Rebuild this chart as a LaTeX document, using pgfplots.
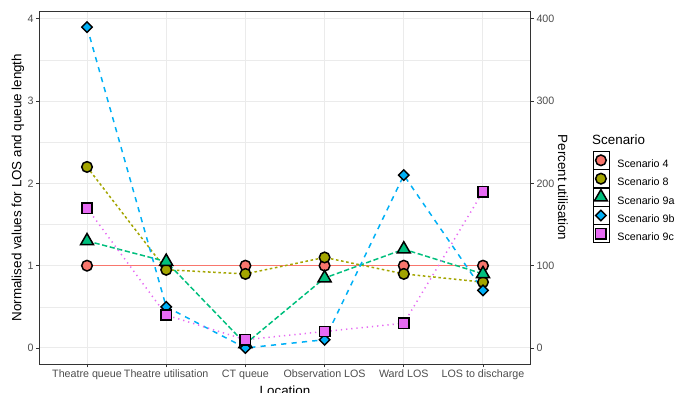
\documentclass[border=0pt]{standalone}
\usepackage{pgfplots}
\usepackage{pgfplotstable}
\pgfplotsset{compat=1.18}
\usepackage{fontspec}
\setmainfont{Liberation Sans}

\definecolor{sc4}{HTML}{F8766D}
\definecolor{sc8}{HTML}{A3A500}
\definecolor{sc9a}{HTML}{00BF7D}
\definecolor{sc9b}{HTML}{00B0F6}
\definecolor{sc9c}{HTML}{E76BF3}
\definecolor{gridc}{HTML}{EBEBEB}
\definecolor{tickc}{HTML}{4D4D4D}
\definecolor{framec}{HTML}{333333}

% normalised values per location (index 0..5)
\pgfplotstableread{
x   s4  s8    s9a   s9b  s9c
0   1   2.2   1.3   3.9  1.7
1   1   0.95  1.05  0.5  0.4
2   1   0.9   0.05  0.0  0.1
3   1   1.1   0.85  0.1  0.2
4   1   0.9   1.2   2.1  0.3
5   1   0.8   0.9   0.7  1.9
}\scen

\pgfplotsset{
  circ/.style={mark=*, mark size=5.3pt, mark options={solid, draw=black, line width=1.5pt, fill=#1}},
  tri/.style={mark=triangle*, mark size=7.5pt, mark options={solid, draw=black, line width=1.5pt, fill=#1}},
  dia/.style={mark=square*, mark size=3.7pt, mark options={solid, rotate=45, draw=black, line width=1.4pt, fill=#1}},
  sqr/.style={mark=square*, mark size=5.2pt, mark options={solid, draw=black, line width=1.5pt, fill=#1}},
  conn/.style={draw=#1, color=#1, line width=1.5pt, no marks, forget plot},
}

\begin{document}
\begin{tikzpicture}
% secondary scale on the right: percent utilisation
\begin{axis}[
  at={(39.5pt,28pt)}, anchor=south west,
  scale only axis, width=491pt, height=353pt,
  xmin=-0.6, xmax=5.6, ymin=-19.5, ymax=409.5,
  axis x line=none, axis y line*=right,
  ytick={0,100,200,300,400},
  tick align=outside, major tick length=3.3pt,
  tick style={color=framec, line width=0.9pt},
  axis line style={framec, line width=0.9pt},
  /pgf/number format/assume math mode=true,
  yticklabel style={font=\fontsize{10.7}{12}\selectfont, text=tickc, inner sep=0pt, xshift=2.5pt},
  ylabel={Percent utilisation},
  ylabel style={at={(axis description cs:1.0662,0.5)}, anchor=center, rotate=180, font=\fontsize{13.4}{15}\selectfont},
]
\end{axis}

\begin{axis}[
  at={(39.5pt,28pt)}, anchor=south west,
  scale only axis, width=491pt, height=353pt,
  xmin=-0.6, xmax=5.6, ymin=-0.195, ymax=4.095,
  xtick={0,...,5},
  xticklabels={Theatre queue, Theatre utilisation, CT queue, Observation LOS, Ward LOS, LOS to discharge},
  ytick={0,...,4}, minor ytick={0.5,1.5,2.5,3.5},
  xmajorgrids, ymajorgrids, yminorgrids,
  major grid style={gridc, line width=1pt},
  minor grid style={gridc, line width=0.5pt},
  tick align=outside, xtick pos=bottom, ytick pos=left,
  major tick length=3.3pt, minor tick length=0pt,
  tick style={color=framec, line width=0.9pt},
  axis line style={framec, line width=0.9pt},
  /pgf/number format/assume math mode=true,
  ticklabel style={font=\fontsize{10.7}{12}\selectfont, text=tickc, inner sep=0pt},
  yticklabel style={xshift=-2.5pt},
  xticklabel style={yshift=-2.5pt},
  xlabel={Location},
  xlabel style={at={(axis description cs:0.5,0)}, anchor=base, yshift=-31pt, font=\fontsize{13.4}{15}\selectfont},
  ylabel={Normalised values for LOS and queue length},
  ylabel style={at={(axis description cs:-0.0438,0.5)}, anchor=center, font=\fontsize{13.4}{15}\selectfont},
  legend image code/.code={%
    \path (-8pt,-5pt) rectangle (8pt,13pt);
    \draw[only marks,#1] plot coordinates {(0pt,3.8pt)};},
  legend style={at={(axis description cs:1.1267,0.6037)}, anchor=north west,
    draw=none, fill=none, inner sep=0pt, outer sep=0pt, row sep=0pt, column sep=8.3pt,
    font=\fontsize{10.7}{12}\selectfont, nodes={inner sep=0pt}},
  legend cell align=left,
]
% connecting lines
\addplot[conn=sc4] table[x=x, y=s4] {\scen};
\addplot[conn=sc8, dash pattern=on 2.6pt off 2.6pt] table[x=x, y=s8] {\scen};
\addplot[conn=sc9a, dash pattern=on 5.2pt off 2.6pt] table[x=x, y=s9a] {\scen};
\addplot[conn=sc9b, dash pattern=on 5.2pt off 5.2pt] table[x=x, y=s9b] {\scen};
\addplot[conn=sc9c, dash pattern=on 1.3pt off 3.9pt] table[x=x, y=s9c] {\scen};
% points
\addplot[only marks, circ=sc4, forget plot] table[x=x, y=s4] {\scen};
\addplot[only marks, circ=sc8, forget plot] table[x=x, y=s8] {\scen};
\addplot[only marks, tri=sc9a, forget plot] table[x=x, y=s9a] {\scen};
\addplot[only marks, dia=sc9b, forget plot] table[x=x, y=s9b] {\scen};
\addplot[only marks, sqr=sc9c, forget plot] table[x=x, y=s9c] {\scen};
% legend keys
\addlegendimage{circ=sc4}\addlegendentry{Scenario 4}
\addlegendimage{circ=sc8}\addlegendentry{Scenario 8}
\addlegendimage{tri=sc9a}\addlegendentry{Scenario 9a}
\addlegendimage{dia=sc9b}\addlegendentry{Scenario 9b}
\addlegendimage{sqr=sc9c}\addlegendentry{Scenario 9c}
\end{axis}
\node[anchor=west, inner sep=0pt, font=\fontsize{13.4}{15}\selectfont] at (592pt,252pt) {Scenario};
\pgfresetboundingbox
\path[use as bounding box] (0,0) rectangle (676pt,392pt);
\end{tikzpicture}
\end{document}
